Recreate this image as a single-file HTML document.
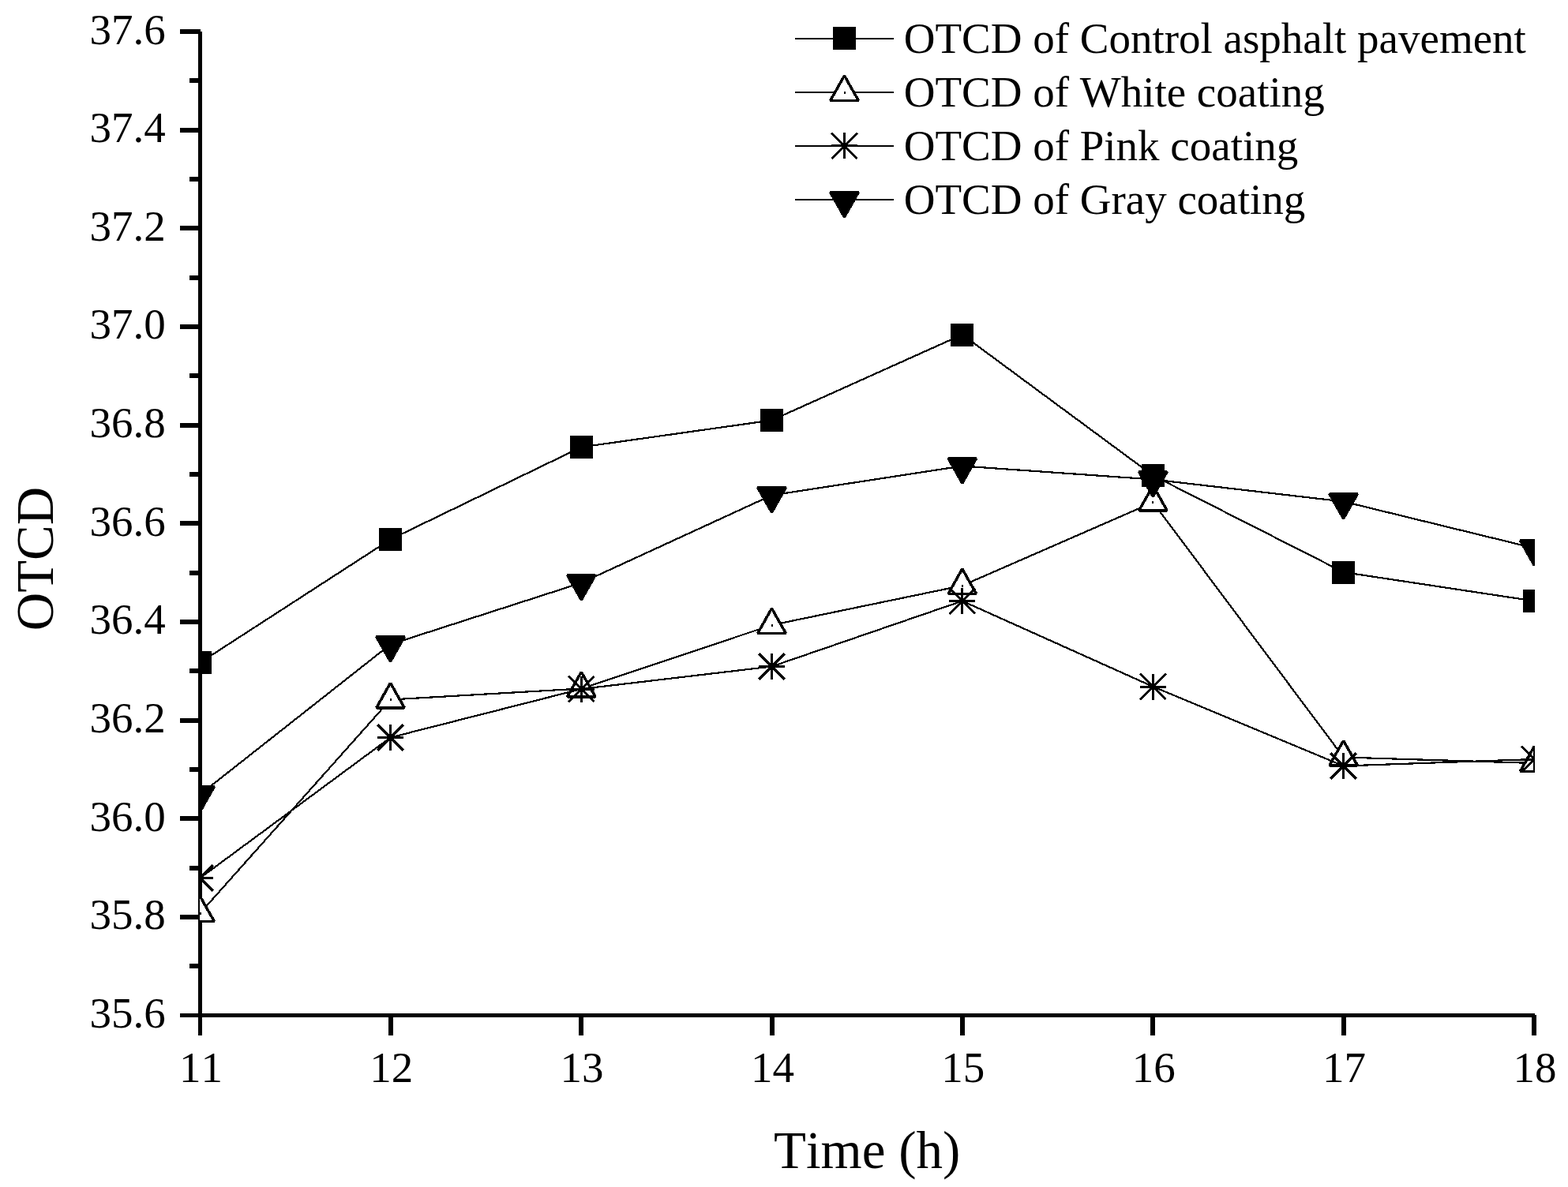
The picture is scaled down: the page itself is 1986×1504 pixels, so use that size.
<!DOCTYPE html>
<html lang="en"><head><meta charset="utf-8"><title>OTCD versus Time</title>
<style>html,body{margin:0;padding:0;background:#fff}body{width:1986px;height:1504px;overflow:hidden}svg{display:block}text{font-family:"Liberation Serif",serif;fill:#000;font-kerning:none}</style></head><body>
<svg width="1986" height="1504" viewBox="0 0 1986 1504" role="img" aria-label="OTCD versus Time (h) for control asphalt pavement and white, pink and gray coatings">
<rect width="1986" height="1504" fill="#fff"/>
<defs><clipPath id="plot"><rect x="253" y="0" width="1691" height="1290"/></clipPath></defs>
<g fill="#000" shape-rendering="crispEdges">
<rect x="251" y="40" width="5" height="1272"/>
<rect x="228" y="1284" width="1716" height="5"/>
<rect x="228" y="37" width="26" height="6"/>
<rect x="240" y="99" width="14" height="6"/>
<rect x="228" y="162" width="26" height="6"/>
<rect x="240" y="224" width="14" height="6"/>
<rect x="228" y="286" width="26" height="6"/>
<rect x="240" y="349" width="14" height="6"/>
<rect x="228" y="411" width="26" height="6"/>
<rect x="240" y="473" width="14" height="6"/>
<rect x="228" y="536" width="26" height="6"/>
<rect x="240" y="598" width="14" height="6"/>
<rect x="228" y="660" width="26" height="6"/>
<rect x="240" y="723" width="14" height="6"/>
<rect x="228" y="785" width="26" height="6"/>
<rect x="240" y="847" width="14" height="6"/>
<rect x="228" y="910" width="26" height="6"/>
<rect x="240" y="972" width="14" height="6"/>
<rect x="228" y="1034" width="26" height="6"/>
<rect x="240" y="1097" width="14" height="6"/>
<rect x="228" y="1159" width="26" height="6"/>
<rect x="240" y="1221" width="14" height="6"/>
<rect x="492" y="1286" width="6" height="26"/>
<rect x="733" y="1286" width="6" height="26"/>
<rect x="975" y="1286" width="6" height="26"/>
<rect x="1216" y="1286" width="6" height="26"/>
<rect x="1457" y="1286" width="6" height="26"/>
<rect x="1699" y="1286" width="6" height="26"/>
<rect x="1940" y="1286" width="6" height="26"/>
</g>
<g clip-path="url(#plot)" shape-rendering="crispEdges">
<polyline points="253.5,839.5 494.5,683.5 736.3,566.5 977.5,532.5 1218.8,424 1460.4,602.5 1701.6,725 1943.2,761.5" fill="none" stroke="#000" stroke-width="2.2" stroke-linejoin="round"/>
<rect x="239" y="825" width="29" height="29" fill="#000"/><rect x="480" y="669" width="29" height="29" fill="#000"/><rect x="721.8" y="552" width="29" height="29" fill="#000"/><rect x="963" y="518" width="29" height="29" fill="#000"/><rect x="1204.3" y="409.5" width="29" height="29" fill="#000"/><rect x="1445.9" y="588" width="29" height="29" fill="#000"/><rect x="1687.1" y="710.5" width="29" height="29" fill="#000"/><rect x="1928.7" y="747" width="29" height="29" fill="#000"/>
<polyline points="253.5,1157 494.5,886.5 736.3,872.5 977.5,792 1218.8,742 1460.4,636.5 1701.6,959.5 1943.2,967" fill="none" stroke="#000" stroke-width="2.2" stroke-linejoin="round"/>
<path d="M235.75 1167.25L253.5 1135.9L271.25 1167.25Z" fill="#fff" stroke="#000" stroke-width="3.5" stroke-linejoin="bevel"/><rect x="252.5" y="1155.5" width="2" height="3" fill="#000"/><path d="M476.75 896.75L494.5 865.4L512.25 896.75Z" fill="#fff" stroke="#000" stroke-width="3.5" stroke-linejoin="bevel"/><rect x="493.5" y="885" width="2" height="3" fill="#000"/><path d="M718.55 882.75L736.3 851.4L754.05 882.75Z" fill="#fff" stroke="#000" stroke-width="3.5" stroke-linejoin="bevel"/><rect x="735.3" y="871" width="2" height="3" fill="#000"/><path d="M959.75 802.25L977.5 770.9L995.25 802.25Z" fill="#fff" stroke="#000" stroke-width="3.5" stroke-linejoin="bevel"/><rect x="976.5" y="790.5" width="2" height="3" fill="#000"/><path d="M1201.05 752.25L1218.8 720.9L1236.55 752.25Z" fill="#fff" stroke="#000" stroke-width="3.5" stroke-linejoin="bevel"/><rect x="1217.8" y="740.5" width="2" height="3" fill="#000"/><path d="M1442.65 646.75L1460.4 615.4L1478.15 646.75Z" fill="#fff" stroke="#000" stroke-width="3.5" stroke-linejoin="bevel"/><rect x="1459.4" y="635" width="2" height="3" fill="#000"/><path d="M1683.85 969.75L1701.6 938.4L1719.35 969.75Z" fill="#fff" stroke="#000" stroke-width="3.5" stroke-linejoin="bevel"/><rect x="1700.6" y="958" width="2" height="3" fill="#000"/><path d="M1925.45 977.25L1943.2 945.9L1960.95 977.25Z" fill="#fff" stroke="#000" stroke-width="3.5" stroke-linejoin="bevel"/><rect x="1942.2" y="965.5" width="2" height="3" fill="#000"/>
<polyline points="253.5,1112.5 494.5,934.5 736.3,873 977.5,844.5 1218.8,761.5 1460.4,870 1701.6,970.5 1943.2,962" fill="none" stroke="#000" stroke-width="2.2" stroke-linejoin="round"/>
<path d="M237 1112.5H270M253.5 1096V1129M237.2 1096.2L269.8 1128.8M237.2 1128.8L269.8 1096.2" fill="none" stroke="#000" stroke-width="3.0" stroke-linecap="butt"/><path d="M478 934.5H511M494.5 918V951M478.2 918.2L510.8 950.8M478.2 950.8L510.8 918.2" fill="none" stroke="#000" stroke-width="3.0" stroke-linecap="butt"/><path d="M719.8 873H752.8M736.3 856.5V889.5M720 856.7L752.6 889.3M720 889.3L752.6 856.7" fill="none" stroke="#000" stroke-width="3.0" stroke-linecap="butt"/><path d="M961 844.5H994M977.5 828V861M961.2 828.2L993.8 860.8M961.2 860.8L993.8 828.2" fill="none" stroke="#000" stroke-width="3.0" stroke-linecap="butt"/><path d="M1202.3 761.5H1235.3M1218.8 745V778M1202.5 745.2L1235.1 777.8M1202.5 777.8L1235.1 745.2" fill="none" stroke="#000" stroke-width="3.0" stroke-linecap="butt"/><path d="M1443.9 870H1476.9M1460.4 853.5V886.5M1444.1 853.7L1476.7 886.3M1444.1 886.3L1476.7 853.7" fill="none" stroke="#000" stroke-width="3.0" stroke-linecap="butt"/><path d="M1685.1 970.5H1718.1M1701.6 954V987M1685.3 954.2L1717.9 986.8M1685.3 986.8L1717.9 954.2" fill="none" stroke="#000" stroke-width="3.0" stroke-linecap="butt"/><path d="M1926.7 962H1959.7M1943.2 945.5V978.5M1926.9 945.7L1959.5 978.3M1926.9 978.3L1959.5 945.7" fill="none" stroke="#000" stroke-width="3.0" stroke-linecap="butt"/>
<polyline points="253.5,1006.5 494.5,816.5 736.3,738.5 977.5,627.5 1218.8,590.5 1460.4,607.5 1701.6,635.5 1943.2,694.5" fill="none" stroke="#000" stroke-width="2.2" stroke-linejoin="round"/>
<path d="M235.75 996.75L271.25 996.75L253.5 1028.1Z" fill="#000" stroke="#000" stroke-width="3.5" stroke-linejoin="bevel"/><path d="M476.75 806.75L512.25 806.75L494.5 838.1Z" fill="#000" stroke="#000" stroke-width="3.5" stroke-linejoin="bevel"/><path d="M718.55 728.75L754.05 728.75L736.3 760.1Z" fill="#000" stroke="#000" stroke-width="3.5" stroke-linejoin="bevel"/><path d="M959.75 617.75L995.25 617.75L977.5 649.1Z" fill="#000" stroke="#000" stroke-width="3.5" stroke-linejoin="bevel"/><path d="M1201.05 580.75L1236.55 580.75L1218.8 612.1Z" fill="#000" stroke="#000" stroke-width="3.5" stroke-linejoin="bevel"/><path d="M1442.65 597.75L1478.15 597.75L1460.4 629.1Z" fill="#000" stroke="#000" stroke-width="3.5" stroke-linejoin="bevel"/><path d="M1683.85 625.75L1719.35 625.75L1701.6 657.1Z" fill="#000" stroke="#000" stroke-width="3.5" stroke-linejoin="bevel"/><path d="M1925.45 684.75L1960.95 684.75L1943.2 716.1Z" fill="#000" stroke="#000" stroke-width="3.5" stroke-linejoin="bevel"/>
</g>
<g font-size="55" text-anchor="end">
<text x="209.8" y="55.5">37.6</text>
<text x="209.8" y="180.15">37.4</text>
<text x="209.8" y="304.8">37.2</text>
<text x="209.8" y="429.45">37.0</text>
<text x="209.8" y="554.1">36.8</text>
<text x="209.8" y="678.75">36.6</text>
<text x="209.8" y="803.4">36.4</text>
<text x="209.8" y="928.05">36.2</text>
<text x="209.8" y="1052.7">36.0</text>
<text x="209.8" y="1177.35">35.8</text>
<text x="209.8" y="1302">35.6</text>
</g>
<g font-size="55" text-anchor="middle">
<text x="254.4" y="1371">11</text>
<text x="495.76" y="1371">12</text>
<text x="737.11" y="1371">13</text>
<text x="978.47" y="1371">14</text>
<text x="1219.83" y="1371">15</text>
<text x="1461.19" y="1371">16</text>
<text x="1702.54" y="1371">17</text>
<text x="1943.9" y="1371">18</text>
</g>
<text x="1098.2" y="1480" font-size="67" text-anchor="middle">Time (h)</text>
<text transform="translate(67.2 708) rotate(-90)" font-size="67" text-anchor="middle">OTCD</text>
<g shape-rendering="crispEdges">
<rect x="1007" y="47.6" width="125" height="2.4" fill="#000"/>
<rect x="1055" y="34.3" width="29" height="29" fill="#000"/>
<text x="1144.7" y="67" font-size="55">OTCD of Control asphalt pavement</text>
<rect x="1007" y="115.6" width="125" height="2.4" fill="#000"/>
<path d="M1051.75 127.25L1069.5 95.9L1087.25 127.25Z" fill="#fff" stroke="#000" stroke-width="3.5" stroke-linejoin="bevel"/><rect x="1068.5" y="115.5" width="2" height="3" fill="#000"/>
<text x="1144.7" y="135" font-size="55">OTCD of White coating</text>
<rect x="1007" y="183.6" width="125" height="2.4" fill="#000"/>
<path d="M1053 184.8H1086M1069.5 168.3V201.3M1053.2 168.5L1085.8 201.1M1053.2 201.1L1085.8 168.5" fill="none" stroke="#000" stroke-width="3.0" stroke-linecap="butt"/>
<text x="1144.7" y="203" font-size="55">OTCD of Pink coating</text>
<rect x="1007" y="251.6" width="125" height="2.4" fill="#000"/>
<path d="M1051.75 243.65L1087.25 243.65L1069.5 275Z" fill="#000" stroke="#000" stroke-width="3.5" stroke-linejoin="bevel"/>
<text x="1144.7" y="271" font-size="55">OTCD of Gray coating</text>
</g>
</svg></body></html>
